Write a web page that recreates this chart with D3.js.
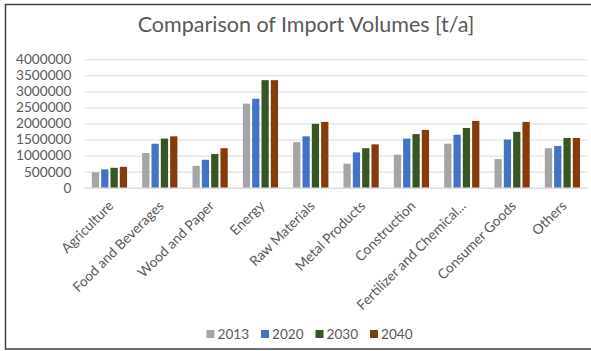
<!DOCTYPE html>
<html>
<head>
<meta charset="utf-8">
<script src="https://cdn.jsdelivr.net/npm/d3@7"></script>
<style>
  html, body { margin: 0; padding: 0; background: #fff; }
  svg { display: block; font-family: Lato, "Open Sans", sans-serif; }
</style>
</head>
<body>
<svg id="chart" width="591" height="351"></svg>
<script>
// Import volumes per sector, tonnes per year
const categories = ["Agriculture", "Food and Beverages", "Wood and Paper", "Energy", "Raw Materials",
  "Metal Products", "Construction", "Fertilizer and Chemical...", "Consumer Goods", "Others"];
const years = ["2013", "2020", "2030", "2040"];
const values2013 = [480000, 1080000, 680000, 2620000, 1420000, 750000, 1030000, 1370000, 890000, 1230000];
const values2020 = [570000, 1370000, 870000, 2770000, 1600000, 1100000, 1530000, 1650000, 1500000, 1300000];
const values2030 = [620000, 1530000, 1050000, 3350000, 1990000, 1230000, 1670000, 1860000, 1740000, 1550000];
const values2040 = [650000, 1600000, 1230000, 3350000, 2050000, 1350000, 1800000, 2080000, 2050000, 1550000];
const yTicks = [0, 500000, 1000000, 1500000, 2000000, 2500000, 3000000, 3500000, 4000000];
const colors = ["#A5A5A5", "#4472C4", "#375623", "#843C0C"];

const series = [values2013, values2020, values2030, values2040];

const svg = d3.select("#chart");

// outer frame (right edge runs past the view)
svg.append("rect")
  .attr("x", 5.5).attr("y", 4.5).attr("width", 600).attr("height", 344.5)
  .attr("fill", "#fff").attr("stroke", "#404040").attr("stroke-width", 1.5);

const plot = { left: 84.3, right: 587.6, top: 59.3, bottom: 187.7 };

const x0 = d3.scaleBand().domain(categories).range([plot.left, plot.right])
  .paddingInner(0.3).paddingOuter(0.15);
const x1 = d3.scaleBand().domain(years).range([0, x0.bandwidth()])
  .paddingInner(0.22).paddingOuter(0);
const y = d3.scaleLinear().domain([0, 4000000]).range([plot.bottom, plot.top]);
const color = d3.scaleOrdinal().domain(years).range(colors);

// title
svg.append("text")
  .attr("x", 306).attr("y", 32)
  .attr("text-anchor", "middle")
  .attr("font-size", 21.5)
  .attr("fill", "#595959")
  .text("Comparison of Import Volumes [t/a]");

// gridlines and value labels
const yAxis = d3.axisLeft(y).tickValues(yTicks).tickSize(-(plot.right - plot.left)).tickPadding(13)
  .tickFormat(d3.format("d"));
const gy = svg.append("g").attr("transform", `translate(${plot.left},0)`).call(yAxis);
gy.select(".domain").remove();
gy.selectAll(".tick line").attr("stroke", "#D9D9D9").attr("stroke-width", 1);
gy.selectAll(".tick text").attr("font-size", 13.6).attr("fill", "#595959")
  .attr("font-family", "Lato, 'Open Sans', sans-serif");

// bars
const groups = svg.append("g").selectAll("g")
  .data(categories)
  .join("g")
  .attr("transform", d => `translate(${x0(d)},0)`);

groups.selectAll("rect")
  .data((c, i) => years.map((yr, k) => ({ year: yr, value: series[k][i] })))
  .join("rect")
  .attr("x", d => x1(d.year))
  .attr("width", x1.bandwidth())
  .attr("y", d => y(d.value))
  .attr("height", d => y(0) - y(d.value))
  .attr("fill", d => color(d.year));

// category axis
const xAxis = d3.axisBottom(x0).tickSize(0).tickPadding(0);
const gx = svg.append("g").attr("transform", `translate(0,${plot.bottom})`).call(xAxis);
gx.select(".domain").attr("stroke", "#D9D9D9");
gx.selectAll(".tick text")
  .attr("font-size", 13.8).attr("fill", "#595959")
  .attr("font-family", "Lato, 'Open Sans', sans-serif")
  .attr("text-anchor", "end")
  .attr("dy", 0)
  .attr("transform", "translate(5,19) rotate(-45)");

// legend
const legend = svg.append("g").selectAll("g")
  .data(years)
  .join("g")
  .attr("transform", (d, i) => `translate(${206.5 + i * 54.5},334)`);
legend.append("rect")
  .attr("x", 0).attr("y", -4).attr("width", 8).attr("height", 8)
  .attr("fill", d => color(d));
legend.append("text")
  .attr("x", 11).attr("y", 0).attr("dy", "0.35em")
  .attr("font-size", 13.6).attr("fill", "#595959")
  .text(d => d);
</script>
</body>
</html>
